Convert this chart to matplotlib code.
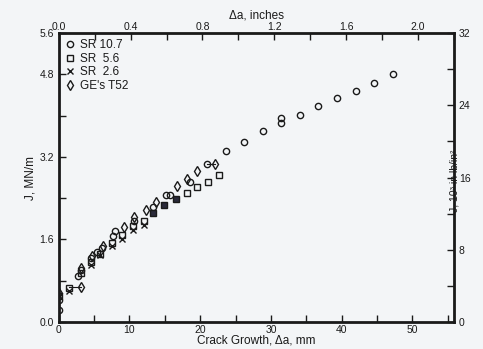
import numpy as np
import matplotlib.pyplot as plt
from matplotlib.ticker import MultipleLocator, FixedLocator

# --- data: crack growth (mm), J (MN/m) ---
sr107_da = [0.1, 0.1, 2.7, 3.1, 4.6, 5.4, 6.1, 7.7, 7.9, 10.6, 13.3, 15.2, 15.7,
            18.6, 21.0, 23.7, 26.2, 28.9, 31.4, 31.4, 34.1, 36.7, 39.4, 42.0,
            44.6, 47.2]
sr107_j = [0.23, 0.43, 0.89, 1.00, 1.24, 1.35, 1.43, 1.67, 1.76, 1.96, 2.22, 2.47,
           2.47, 2.71, 3.06, 3.32, 3.49, 3.71, 3.95, 3.86, 4.01, 4.19, 4.35, 4.48,
           4.63, 4.80]

sr56_da = [0.1, 1.5, 3.1, 4.6, 5.9, 7.5, 8.9, 10.5, 12.1, 18.1, 19.5, 21.1, 22.6]
sr56_j = [0.50, 0.66, 0.95, 1.16, 1.32, 1.54, 1.69, 1.86, 1.96, 2.49, 2.61, 2.71, 2.85]

sr56f_da = [13.4, 14.9, 16.6]
sr56f_j = [2.11, 2.27, 2.38]

sr26_da = [0.1, 1.5, 4.6, 5.9, 7.5, 8.9, 10.5, 12.1]
sr26_j = [0.50, 0.60, 1.10, 1.29, 1.47, 1.61, 1.78, 1.88]

t52_da = [0.1, 3.1, 3.1, 4.7, 6.2, 9.2, 10.6, 12.3, 13.8, 16.7, 18.1, 19.6, 22.1]
t52_j = [0.56, 0.68, 1.04, 1.27, 1.48, 1.84, 2.03, 2.17, 2.33, 2.64, 2.78, 2.93, 3.06]

# short connectors (square -> diamond, circle -> diamond)
link1_da = [1.5, 3.1]
link1_j = [0.68, 0.68]
link2_da = [21.0, 22.1]
link2_j = [3.06, 3.06]

MM_PER_IN = 25.4
J_TO_IMP = 32.0 / 5.6   # MN/m -> 10^3 in lb/in^2

ink = '#1a1a1a'
paper = '#f3f5f7'
plt.rcParams['font.family'] = ['Liberation Sans', 'DejaVu Sans']
plt.rcParams['text.color'] = ink
plt.rcParams['axes.labelcolor'] = ink
plt.rcParams['xtick.color'] = ink
plt.rcParams['ytick.color'] = ink

fig = plt.figure(figsize=(4.83, 3.49), dpi=100, facecolor=paper)
ax = fig.add_axes([0.1215, 0.0774, 0.8185, 0.828])
ax.set_facecolor(paper)

ms = 4.5
kw = dict(linestyle='none', color=ink, markerfacecolor='none', markeredgewidth=1.0)
ax.plot(link1_da, link1_j, '-', color=ink, lw=0.8)
ax.plot(link2_da, link2_j, '-', color=ink, lw=0.8)
ax.plot(sr107_da, sr107_j, marker='o', ms=ms, label='SR 10.7', **kw)
ax.plot(sr56_da, sr56_j, marker='s', ms=ms, label='SR  5.6', **kw)
ax.plot(sr56f_da, sr56f_j, marker='s', ms=ms, linestyle='none', color=ink,
        markerfacecolor='#2a2a3a', markeredgewidth=1.0)
ax.plot(sr26_da, sr26_j, marker='x', ms=ms, label='SR  2.6', **kw)
ax.plot(t52_da, t52_j, marker='d', ms=ms + 0.5, label="GE's T52", **kw)
ax.plot([0.1, 0.1], [0.23, 0.56], '-', color=ink, lw=0.8)

ax.set_xlim(0, 2.2 * MM_PER_IN)
ax.set_ylim(0, 5.6)
ax.xaxis.set_major_locator(FixedLocator([0, 10, 20, 30, 40, 50]))
ax.xaxis.set_minor_locator(MultipleLocator(5))
ax.yaxis.set_major_locator(FixedLocator([0, 1.6, 3.2, 4.8, 5.6]))
ax.yaxis.set_minor_locator(MultipleLocator(0.8))
ax.set_yticklabels(['0.0', '1.6', '3.2', '4.8', '5.6'])
ax.tick_params(which='both', direction='in', labelsize=7.5, width=1.0)
ax.tick_params(which='major', length=5)
ax.tick_params(which='minor', length=5)
ax.tick_params(axis='x', pad=2)
ax.set_xlabel('Crack Growth, Δa, mm', fontsize=8.5, labelpad=0)
ax.set_ylabel('J, MN/m', fontsize=8.5, labelpad=2)
for s in ax.spines.values():
    s.set_linewidth(2.0)
    s.set_color(ink)

top = ax.secondary_xaxis('top', functions=(lambda x: x / MM_PER_IN,
                                            lambda x: x * MM_PER_IN))
top.xaxis.set_major_locator(FixedLocator([0.0, 0.4, 0.8, 1.2, 1.6, 2.0]))
top.xaxis.set_minor_locator(MultipleLocator(0.2))
top.set_xticklabels(['0.0', '0.4', '0.8', '1.2', '1.6', '2.0'])
top.tick_params(which='both', direction='in', labelsize=7.5, length=5, width=1.0, pad=1)
top.set_xlabel('Δa, inches', fontsize=8.5, labelpad=2)

right = ax.secondary_yaxis('right', functions=(lambda y: y * J_TO_IMP,
                                                lambda y: y / J_TO_IMP))
right.yaxis.set_major_locator(FixedLocator([0, 8, 16, 24, 32]))
right.yaxis.set_minor_locator(MultipleLocator(4))
right.tick_params(which='both', direction='in', labelsize=7.5, length=5, width=1.0)
right.set_ylabel('J, 10³ in lb/in²', fontsize=7.5, rotation=90, va='center')
right.yaxis.set_label_coords(1.062, 0.49)

leg = ax.legend(loc='upper left', frameon=False, fontsize=8.5, handletextpad=0.3,
                borderaxespad=0.3, handlelength=1.0, labelspacing=0.15,
                borderpad=0.2)

fig.savefig('out.png', dpi=100, facecolor=paper)
